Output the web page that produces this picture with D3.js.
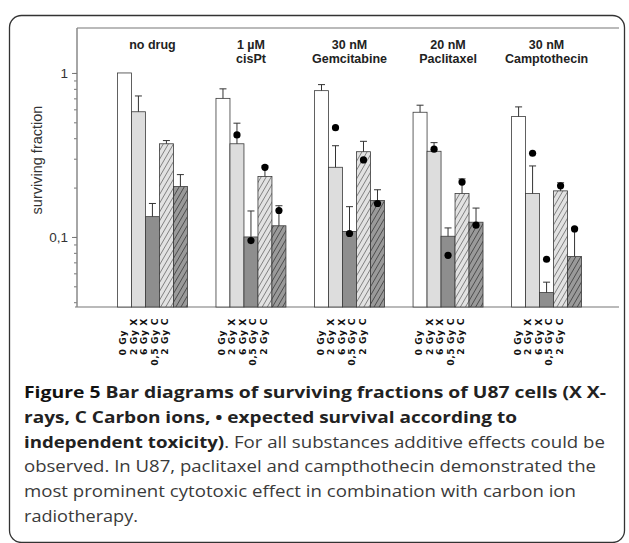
<!DOCTYPE html>
<html>
<head>
<meta charset="utf-8">
<script src="https://cdn.jsdelivr.net/npm/d3@7"></script>
<style>
    html, body { margin: 0; padding: 0; background: #fff; }
    svg { display: block; }
</style>
</head>
<body>
<div id="chart"></div>
<script>
//
// Surviving fractions of U87 cells, grouped log-scale bar chart
//

// ----------------------------------------
// DATA
// ----------------------------------------
const groups = ["no drug", "1 µM cisPt", "30 nM Gemcitabine", "20 nM Paclitaxel", "30 nM Camptothecin"];
const groupLines = [["no drug"], ["1 µM", "cisPt"], ["30 nM", "Gemcitabine"], ["20 nM", "Paclitaxel"], ["30 nM", "Camptothecin"]];
const treatments = ["0 Gy", "2 Gy X", "6 Gy X", "0,5 Gy C", "2 Gy C"];

// measured surviving fraction (bar height)
const survNoDrug = [1.0, 0.58, 0.133, 0.37, 0.203];
const survCisPt = [0.70, 0.37, 0.100, 0.234, 0.117];
const survGem = [0.78, 0.266, 0.108, 0.331, 0.167];
const survPac = [0.576, 0.333, 0.101, 0.184, 0.123];
const survCam = [0.542, 0.184, 0.0458, 0.191, 0.0759];

// upper end of error bar
const errNoDrug = [null, 0.724, 0.160, 0.387, 0.240];
const errCisPt = [0.80, 0.494, 0.144, 0.271, 0.155];
const errGem = [0.849, 0.36, 0.153, 0.383, 0.194];
const errPac = [0.636, 0.376, 0.1135, 0.226, 0.150];
const errCam = [0.621, 0.271, 0.053, 0.214, 0.113];

// expected survival according to independent toxicity (dots)
const expNoDrug = [null, null, null, null, null];
const expCisPt = [null, 0.419, 0.095, 0.266, 0.145];
const expGem = [null, 0.464, 0.105, 0.295, 0.160];
const expPac = [null, 0.343, 0.0773, 0.216, 0.118];
const expCam = [null, 0.324, 0.0731, 0.205, 0.112];

const yMajorTicks = [1, 0.1];
const yMajorLabels = ["1", "0,1"];
const yAxisTitle = "surviving fraction";

const captionLines = [
    [["Figure 5", "title"], [" Bar diagrams of surviving fractions of U87 cells (X X-", "bold"]],
    [["rays, C Carbon ions, \u2022 expected survival according to", "bold"]],
    [["independent toxicity)", "bold"], [". For all substances additive effects could be", "normal"]],
    [["observed. In U87, paclitaxel and campthothecin demonstrated the", "normal"]],
    [["most prominent cytotoxic effect in combination with carbon ion", "normal"]],
    [["radiotherapy.", "normal"]]
];
const captionWidths = [582, 493, 581, 572, 552, 114];

// ----------------------------------------
// SETUP
// ----------------------------------------
const W = 629, H = 543;
const plot = { left: 77, right: 619, top: 28, bottom: 307 };

const survAll = [survNoDrug, survCisPt, survGem, survPac, survCam];
const errAll = [errNoDrug, errCisPt, errGem, errPac, errCam];
const expAll = [expNoDrug, expCisPt, expGem, expPac, expCam];

const rows = [];
groups.forEach((g, gi) => {
    treatments.forEach((t, ti) => {
        rows.push({ group: g, treatment: t, ti: ti, v: survAll[gi][ti], err: errAll[gi][ti], exp: expAll[gi][ti] });
    });
});

const svg = d3.select("#chart")
    .append("svg")
    .attr("width", W)
    .attr("height", H)
    .style("font-family", "'Liberation Sans', Arial, sans-serif");

// outer rounded figure box
svg.append("rect")
    .attr("x", 9.5).attr("y", 15.5)
    .attr("width", 615).attr("height", 527)
    .attr("rx", 12)
    .attr("fill", "none")
    .attr("stroke", "#333")
    .attr("stroke-width", 1.3);

// hatch patterns
const defs = svg.append("defs");
function hatch(id, bg, stroke) {
    const p = defs.append("pattern")
        .attr("id", id)
        .attr("patternUnits", "userSpaceOnUse")
        .attr("width", 4.4).attr("height", 10)
        .attr("patternTransform", "rotate(30)");
    p.append("rect").attr("width", 4.4).attr("height", 10).attr("fill", bg);
    p.append("line")
        .attr("x1", 2.2).attr("x2", 2.2).attr("y1", 0).attr("y2", 10)
        .attr("stroke", stroke).attr("stroke-width", 0.8);
}
hatch("hatchLight", "#e2e2e2", "#707070");
hatch("hatchDark", "#9a9a9a", "#404040");

const fills = ["#ffffff", "#dddddd", "#8e8e8e", "url(#hatchLight)", "url(#hatchDark)"];

// scales
const x0 = d3.scaleBand().domain(groups).range([79, 620]).paddingInner(0.29).paddingOuter(0.39);
const x1 = d3.scaleBand().domain(treatments).range([0, x0.bandwidth()]);
const xl = d3.scalePoint().domain(treatments).range([9, 51]);
const y = d3.scaleLog().domain([0.0374, 1.88]).range([plot.bottom, plot.top]);

// ----------------------------------------
// FRAME + AXES
// ----------------------------------------
svg.append("line")
    .attr("x1", plot.left).attr("x2", plot.right)
    .attr("y1", plot.top).attr("y2", plot.top)
    .attr("stroke", "#777").attr("stroke-width", 1.2);

svg.append("line")
    .attr("x1", plot.left - 2).attr("x2", plot.right)
    .attr("y1", plot.bottom).attr("y2", plot.bottom)
    .attr("stroke", "#777").attr("stroke-width", 1.2);

// minor ticks
const yMinor = svg.append("g")
    .attr("transform", `translate(${plot.left},0)`)
    .call(d3.axisLeft(y).tickValues(y.ticks()).tickSize(3).tickFormat(""));
yMinor.select(".domain").remove();
yMinor.selectAll(".tick line").attr("stroke", "#777");

// major ticks + labels
const yAxis = svg.append("g")
    .attr("transform", `translate(${plot.left},0)`)
    .call(d3.axisLeft(y).tickValues(yMajorTicks).tickSize(5).tickPadding(4)
        .tickFormat((d, i) => yMajorLabels[i]));
yAxis.select(".domain")
    .attr("d", `M0,${plot.top}V${plot.bottom}`)
    .attr("stroke", "#888").attr("stroke-width", 1.5);
yAxis.selectAll(".tick line").attr("stroke", "#777");
yAxis.selectAll(".tick text")
    .attr("font-size", 13.5)
    .attr("font-family", "'Liberation Sans', Arial, sans-serif")
    .attr("fill", "#333");

svg.append("text")
    .attr("transform", "translate(42,160) rotate(-90)")
    .attr("text-anchor", "middle")
    .attr("font-size", 14.5)
    .attr("fill", "#333")
    .text(yAxisTitle);

// ----------------------------------------
// BARS
// ----------------------------------------
const barG = svg.append("g");

barG.selectAll("rect.bar")
    .data(rows)
    .enter()
    .append("rect")
    .attr("class", "bar")
    .attr("x", d => x0(d.group) + x1(d.treatment))
    .attr("y", d => y(d.v))
    .attr("width", x1.bandwidth())
    .attr("height", d => plot.bottom - y(d.v))
    .attr("fill", d => fills[d.ti])
    .attr("stroke", "#3a3a3a")
    .attr("stroke-width", 0.8);

// error bars (upper only)
const errRows = rows.filter(d => d.err != null);
const cx = d => x0(d.group) + x1(d.treatment) + x1.bandwidth() / 2;

barG.selectAll("line.err")
    .data(errRows)
    .enter()
    .append("line")
    .attr("class", "err")
    .attr("x1", cx).attr("x2", cx)
    .attr("y1", d => y(d.v)).attr("y2", d => y(d.err))
    .attr("stroke", "#333").attr("stroke-width", 1);

barG.selectAll("line.cap")
    .data(errRows)
    .enter()
    .append("line")
    .attr("class", "cap")
    .attr("x1", d => cx(d) - 3.5).attr("x2", d => cx(d) + 3.5)
    .attr("y1", d => y(d.err)).attr("y2", d => y(d.err))
    .attr("stroke", "#333").attr("stroke-width", 1);

// expected survival dots
barG.selectAll("circle.exp")
    .data(rows.filter(d => d.exp != null))
    .enter()
    .append("circle")
    .attr("class", "exp")
    .attr("cx", cx)
    .attr("cy", d => y(d.exp))
    .attr("r", 3.6)
    .attr("fill", "#000");

// ----------------------------------------
// LABELS
// ----------------------------------------
const gLab = svg.append("g")
    .selectAll("text")
    .data(groups)
    .enter()
    .append("text")
    .attr("text-anchor", "middle")
    .attr("font-size", 12.5)
    .attr("font-weight", "bold")
    .attr("fill", "#222");

gLab.selectAll("tspan")
    .data((d, i) => groupLines[i].map(s => ({ s: s, x: x0(d) + x0.bandwidth() / 2 })))
    .enter()
    .append("tspan")
    .attr("x", d => d.x)
    .attr("y", (d, i) => 48.5 + i * 14)
    .text(d => d.s);

// treatment labels, rotated
svg.append("g")
    .selectAll("text")
    .data(rows)
    .enter()
    .append("text")
    .attr("transform", d => {
        const shift = /[XC]$/.test(d.treatment) ? 0 : 12;
        return `translate(${x0(d.group) + xl(d.treatment)},${318 + shift}) rotate(-90)`;
    })
    .attr("text-anchor", "end")
    .attr("font-family", "'DejaVu Sans', sans-serif")
    .attr("font-weight", "bold")
    .attr("font-size", 9.2)
    .attr("letter-spacing", 0.6)
    .attr("fill", "#111")
    .text(d => d.treatment);

// ----------------------------------------
// CAPTION
// ----------------------------------------
const capStyle = {
    title: { weight: "bold", fill: "#111" },
    bold: { weight: "bold", fill: "#222" },
    normal: { weight: "normal", fill: "#3a3a3a" }
};

const cap = svg.append("g")
    .attr("font-family", "'Open Sans', sans-serif")
    .attr("font-size", 16.5)
    .selectAll("text")
    .data(captionLines)
    .enter()
    .append("text")
    .attr("x", 24)
    .attr("y", (d, i) => 398 + i * 24.8)
    .attr("textLength", (d, i) => captionWidths[i])
    .attr("lengthAdjust", "spacingAndGlyphs");

cap.selectAll("tspan")
    .data(d => d)
    .enter()
    .append("tspan")
    .attr("font-weight", d => capStyle[d[1]].weight)
    .attr("fill", d => capStyle[d[1]].fill)
    .text(d => d[0]);
</script>
</body>
</html>
